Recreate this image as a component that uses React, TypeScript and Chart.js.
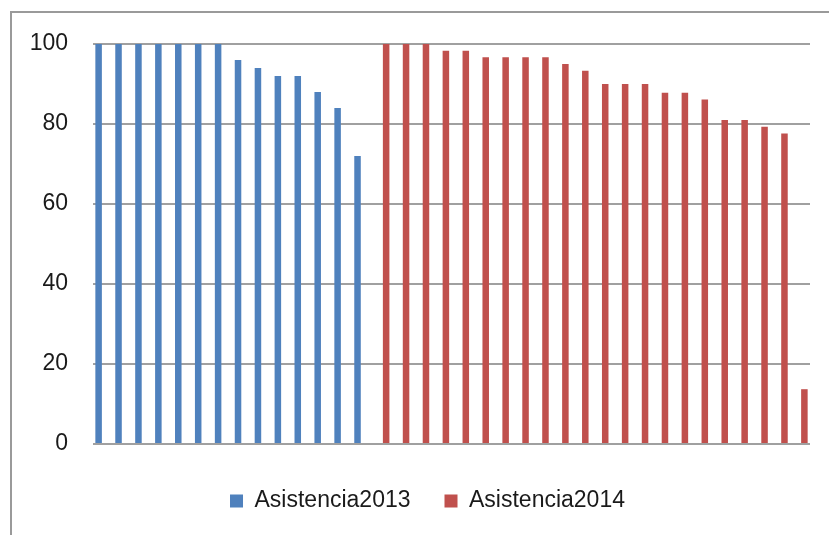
import React, { useEffect, useRef } from "react";
import { Chart, registerables } from "chart.js";

Chart.register(...registerables);

const categories = [
  "1", "2", "3", "4", "5", "6", "7", "8", "9", "10", "11", "12",
  "13", "14", "15", "16", "17", "18", "19", "20", "21", "22", "23", "24",
  "25", "26", "27", "28", "29", "30", "31", "32", "33", "34", "35", "36",
];

const asistencia2013 = [
  100, 100, 100, 100, 100, 100, 100, 96, 94, 92, 92, 88, 84, 72,
  null, null, null, null, null, null, null, null, null, null, null,
  null, null, null, null, null, null, null, null, null, null, null,
];

const asistencia2014 = [
  null, null, null, null, null, null, null, null, null, null, null, null, null, null,
  100, 100, 100, 98.3, 98.3, 96.7, 96.7, 96.7, 96.7, 95, 93.3, 90, 90,
  90, 87.8, 87.8, 86.1, 81, 81, 79.3, 77.6, 13.7,
];

const yTicks = [0, 20, 40, 60, 80, 100];

export default function App() {
  const ref = useRef<HTMLCanvasElement | null>(null);

  useEffect(() => {
    if (!ref.current) return;
    const font = "'Liberation Sans', Arial, sans-serif";
    const chart = new Chart(ref.current, {
      type: "bar",
      data: {
        labels: categories,
        datasets: [
          {
            label: "Asistencia2013",
            data: asistencia2013 as any,
            backgroundColor: "#4F81BD",
            borderWidth: 0,
            barPercentage: 0.75,
            categoryPercentage: 0.873,
          },
          {
            label: "Asistencia2014",
            data: asistencia2014 as any,
            backgroundColor: "#C0504D",
            borderWidth: 0,
            barPercentage: 0.75,
            categoryPercentage: 0.873,
          },
        ],
      },
      options: {
        animation: false,
        responsive: false,
        maintainAspectRatio: false,
        devicePixelRatio: 1,
        layout: { padding: { left: 26, right: 0, top: 44, bottom: 12.5 } },
        plugins: {
          tooltip: { enabled: false },
          legend: {
            position: "bottom",
            align: "center",
            labels: {
              boxWidth: 13,
              boxHeight: 13,
              padding: 34,
              color: "#1a1a1a",
              font: { family: font, size: 23 },
            },
          },
        },
        scales: {
          x: {
            grid: { display: false, drawTicks: false },
            border: { display: false },
            ticks: { display: false },
            afterFit: (s: any) => {
              s.height = 11.5;
            },
          },
          y: {
            min: 0,
            max: 100,
            afterBuildTicks: (s: any) => {
              s.ticks = yTicks.map((v) => ({ value: v }));
            },
            grid: { color: "#a0a0a0", lineWidth: 2, drawTicks: false },
            border: { display: false },
            ticks: {
              padding: 25,
              color: "#1a1a1a",
              font: { family: font, size: 23 },
            },
            afterFit: (s: any) => {
              s.width = 67;
            },
          },
          yRight: {
            type: "linear",
            position: "right",
            display: true,
            min: 0,
            max: 100,
            grid: { display: false, drawOnChartArea: false, drawTicks: false },
            border: { display: false },
            ticks: { display: false },
            afterFit: (s: any) => {
              s.width = 19;
            },
          },
        },
      },
    });
    return () => chart.destroy();
  }, []);

  return (
    <div
      style={{
        position: "fixed",
        left: 0,
        top: 0,
        width: 829,
        height: 535,
        overflow: "hidden",
        background: "#fff",
      }}
    >
      <div
        style={{
          position: "absolute",
          left: 10,
          top: 11,
          width: 900,
          height: 600,
          border: "2px solid #9a9a9a",
        }}
      />
      <canvas
        ref={ref}
        width={829}
        height={535}
        style={{ position: "absolute", left: 0, top: 0, width: 829, height: 535 }}
      />
    </div>
  );
}
